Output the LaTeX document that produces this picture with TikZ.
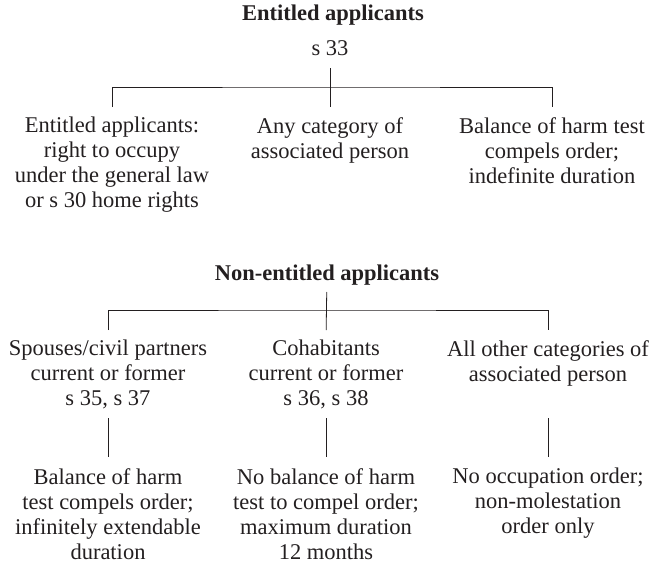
\documentclass[tikz,border=0pt]{standalone}
\usepackage{fontspec}
\setmainfont{Liberation Serif}
\usepackage{tikz}
\usetikzlibrary{positioning}

\definecolor{inkgray}{RGB}{35,31,32}

\begin{document}
\begin{tikzpicture}[x=1pt, y=-1pt,
    lbl/.style={inner sep=0pt, align=center, text=inkgray,
                font=\fontsize{22.5}{25}\selectfont},
    hd/.style={lbl, font=\fontsize{22.5}{25}\selectfont\bfseries},
    br/.style={draw=inkgray, line width=0.8pt}]
          \useasboundingbox (0,0) rectangle (651,570);

          % entitled applicants
          \node[hd] (et) at (333, 15) {Entitled applicants};
          \node[lbl] (s33) at (330, 48) {s 33};

          \node[lbl, anchor=north] (e1) at (112, 117)
                {Entitled applicants:\\right to occupy\\under the general law\\or s 30 home rights};
          \node[lbl, anchor=north] (e2) at (330, 117)
                {Any category of\\associated person};
          \node[lbl, anchor=north] (e3) at (552, 117)
                {Balance of harm test\\compels order;\\indefinite duration};

          \coordinate (ej) at (330, 87);

          \draw[br, shorten <=20pt, shorten >=10pt] (s33.center) -- (e2.north);
          \draw[br, shorten <=10pt, shorten >=10pt] (e1.north) |- (ej) -| (e3.north);

          % non-entitled applicants
          \node[hd] (nt) at (327, 275) {Non-entitled applicants};

          \node[lbl, anchor=north] (n1) at (108, 340)
                {Spouses/civil partners\\current or former\\s 35, s 37};
          \node[lbl, anchor=north] (n2) at (326, 340)
                {Cohabitants\\current or former\\s 36, s 38};
          \node[lbl, anchor=north] (n3) at (548, 340)
                {All other categories of\\associated person};

          \node[lbl, anchor=north] (m1) at (108, 468)
                {Balance of harm\\test compels order;\\infinitely extendable\\duration};
          \node[lbl, anchor=north] (m2) at (326, 468)
                {No balance of harm\\test to compel order;\\maximum duration\\12 months};
          \node[lbl, anchor=north] (m3) at (548, 468)
                {No occupation order;\\non-molestation\\order only};

          \coordinate (nj) at (326, 310);
          \coordinate (nlow) at (0, 418);

          \draw[br, shorten <=17pt, shorten >=10pt] (nt.center) -- (n2.north);
          \draw[br, shorten <=10pt, shorten >=10pt] (n1.north) |- (nj) -| (n3.north);

          \draw[br, shorten >=11pt] (m1.north |- nlow) -- (m1.north);
          \draw[br, shorten >=11pt] (m2.north |- nlow) -- (m2.north);
          \draw[br, shorten >=11pt] (m3.north |- nlow) -- (m3.north);

        \end{tikzpicture}
\end{document}
